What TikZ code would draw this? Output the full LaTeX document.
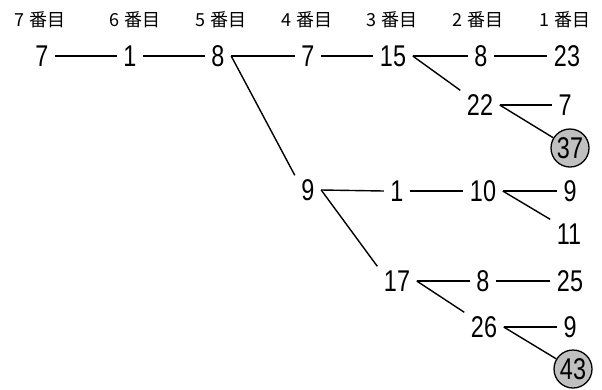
\documentclass[tikz,border=0pt]{standalone}
\usepackage{fontspec}
\newfontfamily\numfont[FakeStretch=0.78]{Liberation Sans}
\newfontfamily\hdrfont{Noto Sans CJK JP}
\definecolor{circgray}{HTML}{C0C0C0}
\begin{document}
\begin{tikzpicture}[x=1pt,y=-1pt,
  num/.style={font=\numfont\fontsize{30}{30}\selectfont, text height=21pt, text depth=0pt, inner xsep=6.5pt, inner ysep=4pt},
  circ/.style={num, circle, draw, line width=1.3pt, fill=circgray, minimum size=38pt, inner sep=0pt},
  hdr/.style={font=\hdrfont\fontsize{18}{18}\selectfont, inner sep=0pt},
  link/.style={line width=1.4pt}]
\useasboundingbox (0,0) rectangle (602,389);
% headers
\node[hdr] (h7) at (40,20) {7\hspace{5pt}番目};
\node[hdr] (h6) at (135,20) {6\hspace{5pt}番目};
\node[hdr] (h5) at (221,20) {5\hspace{5pt}番目};
\node[hdr] (h4) at (307,20) {4\hspace{5pt}番目};
\node[hdr] (h3) at (392,20) {3\hspace{5pt}番目};
\node[hdr] (h2) at (478,20) {2\hspace{5pt}番目};
\node[hdr] (h1) at (565,20) {1\hspace{5pt}番目};
% row 1
\node[num] (a7) at (42,56) {7};
\node[num] (a1) at (130,56) {1};
\node[num] (a8) at (218,56) {8};
\node[num] (a7b) at (308,56) {7};
\node[num] (a15) at (393,56) {15};
\node[num] (a8b) at (481,56) {8};
\node[num] (a23) at (567,56) {23};
\node[num] (a22) at (480,105) {22};
\node[num] (a7c) at (565,105) {7};
\node[circ] (c37) at (570,148) {37};
% lower branch
\node[num] (b9) at (308,190) {9};
\node[num] (b1) at (397,191) {1};
\node[num] (b10) at (483,191) {10};
\node[num] (b9b) at (570,191) {9};
\node[num] (b11) at (569,234) {11};
\node[num] (b17) at (397,281) {17};
\node[num] (b8) at (483,281) {8};
\node[num] (b25) at (570,281) {25};
\node[num] (b26) at (484,327) {26};
\node[num] (b9c) at (570,327) {9};
\node[circ] (c43) at (573,369) {43};
% connectors
\draw[link] (a7.east) -- (a1.west);
\draw[link] (a1.east) -- (a8.west);
\draw[link] (a8.east) -- (a7b.west);
\draw[link] (a8.east) -- (b9.north west);
\draw[link] (a7b.east) -- (a15.west);
\draw[link] (a15.east) -- (a8b.west);
\draw[link] (a15.east) -- (a22.north west);
\draw[link] (a8b.east) -- (a23.west);
\draw[link] (a22.east) -- (a7c.west);
\draw[link] (a22.east) -- (c37);
\draw[link] (b9.east) -- (b1.west);
\draw[link] (b9.east) -- (b17.north west);
\draw[link] (b1.east) -- (b10.west);
\draw[link] (b10.east) -- (b9b.west);
\draw[link] (b10.east) -- (b11.north west);
\draw[link] (b17.east) -- (b8.west);
\draw[link] (b17.east) -- (b26.north west);
\draw[link] (b8.east) -- (b25.west);
\draw[link] (b26.east) -- (b9c.west);
\draw[link] (b26.east) -- (c43);
\end{tikzpicture}
\end{document}
